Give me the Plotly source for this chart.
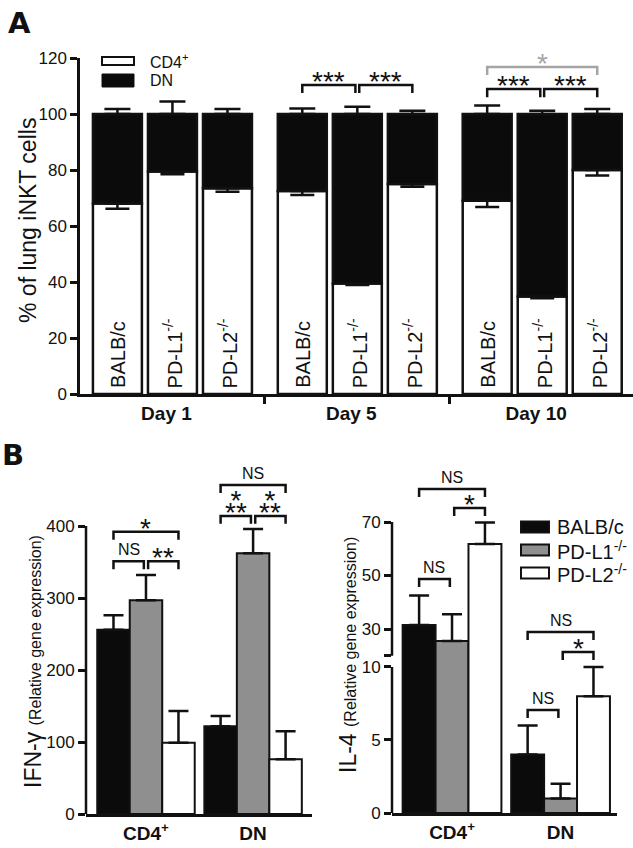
import plotly.graph_objects as go

W, H = 633, 848
FONT = "Liberation Sans, Arial, Helvetica, sans-serif"
INK = "#111111"
SIG_GREY = "#a5a5a5"

# ---------------- Panel A data ----------------
days = ["Day 1", "Day 5", "Day 10"]
strains = ["BALB/c", "PD-L1<sup>-/-</sup>", "PD-L2<sup>-/-</sup>"]
# order: Day 1 (BALB/c, PD-L1, PD-L2), Day 5 (...), Day 10 (...)
cd4_pct = [68.0, 79.5, 73.5, 72.5, 39.5, 75.0, 69.0, 34.8, 80.0]
cd4_err = [1.8, 1.0, 1.3, 1.4, 0.6, 1.0, 2.2, 0.6, 2.0]
dn_pct = [32.0, 20.5, 26.5, 27.5, 60.5, 25.0, 31.0, 65.2, 20.0]
dn_err = [1.8, 4.5, 1.8, 2.0, 2.6, 1.2, 3.0, 1.2, 1.8]
a_ticks = [0, 20, 40, 60, 80, 100, 120]
# (day, strain from, strain to, label lines, bracket height, colour)
sig_a = [(1, 0, 1, ["***"], 110.4, INK), (1, 1, 2, ["***"], 110.4, INK),
         (2, 0, 1, ["***"], 108.9, INK), (2, 1, 2, ["***"], 108.9, INK),
         (2, 0, 2, ["*"], 116.8, SIG_GREY)]

# ---------------- Panel B data ----------------
cells = ["CD4<sup>+</sup>", "DN"]
genotypes = ["BALB/c", "PD-L1<sup>-/-</sup>", "PD-L2<sup>-/-</sup>"]
geno_fill = ["#0b0b0b", "#8f8f8f", "#ffffff"]
ifng_balbc = [256, 122]
ifng_pdl1 = [297, 362]
ifng_pdl2 = [99, 76]
ifng_balbc_err = [20, 14]
ifng_pdl1_err = [35, 34]
ifng_pdl2_err = [44, 39]
il4_balbc = [31.5, 4.0]
il4_pdl1 = [25.5, 1.0]
il4_pdl2 = [61.8, 8.0]
il4_balbc_err = [11, 2.0]
il4_pdl1_err = [10, 1.0]
il4_pdl2_err = [8, 2.0]
ifng_ticks = [0, 100, 200, 300, 400]
il4_low_ticks = [0, 5, 10]
il4_high_ticks = [30, 50, 70]
il4_break = 20
# (cell group, genotype from, genotype to, label lines top->bottom, bracket height)
sig_ifng = [(0, 0, 1, ["NS"], 351), (0, 1, 2, ["**"], 351), (0, 0, 2, ["*"], 392),
            (1, 0, 1, ["*", "**"], 414), (1, 1, 2, ["*", "**"], 414), (1, 0, 2, ["NS"], 457)]
sig_il4_high = [(0, 0, 1, ["NS"], 48.7), (0, 1, 2, ["*"], 75.2), (0, 0, 2, ["NS"], 82.3),
                (1, 1, 2, ["*"], 21.4), (1, 0, 2, ["NS"], 28.9)]
sig_il4_low = [(1, 0, 1, ["NS"], 7.05)]


def px(x):
    return x / W


def py(y):
    return 1 - y / H


fig = go.Figure()
shapes = []
annotations = []

# ================= Panel A =================
GROUP_STEP = 3.36
BAR_W_A = 0.89
xa = [d * GROUP_STEP + s for d in range(len(days)) for s in range(len(strains))]
day_centers = [d * GROUP_STEP + 1 for d in range(len(days))]
day_bounds = [(day_centers[i] + day_centers[i + 1]) / 2 for i in range(len(days) - 1)]

fig.add_trace(go.Bar(
    x=xa, y=cd4_pct, width=BAR_W_A, offset=-BAR_W_A / 2, xaxis="x", yaxis="y",
    marker=dict(color="white", line=dict(color=INK, width=2.5)),
    error_y=dict(type="data", symmetric=False, array=[0] * len(cd4_err), arrayminus=cd4_err,
                 color=INK, thickness=2.5, width=12),
    name="CD4<sup>+</sup>", showlegend=False))
fig.add_trace(go.Bar(
    x=xa, y=dn_pct, base=cd4_pct, width=BAR_W_A, offset=-BAR_W_A / 2, xaxis="x", yaxis="y",
    marker=dict(color="#0b0b0b", line=dict(color=INK, width=2.5)),
    error_y=dict(type="data", symmetric=False, array=dn_err, arrayminus=[0] * len(dn_err),
                 color=INK, thickness=2.5, width=13),
    name="DN", showlegend=False))

for i, xv in enumerate(xa):
    annotations.append(dict(x=xv, y=0, xref="x", yref="y", text=strains[i % 3], textangle=-90,
                            showarrow=False, xanchor="center", yanchor="bottom", yshift=4,
                            font=dict(size=20, color=INK, family=FONT)))


def bracket(xref, yref, x0, x1, ytop, leg, color, lines, star_size, ns_size):
    shapes.append(dict(type="path", xref=xref, yref=yref,
                       path=f"M{x0},{ytop - leg} L{x0},{ytop} L{x1},{ytop} L{x1},{ytop - leg}",
                       line=dict(color=color, width=2.5)))
    star = "*" in lines[0]
    if star:
        if len(lines) == 1:
            txt, size = lines[0], star_size
        else:
            txt = "<br>".join(f"<span style='font-size:{star_size}px'>{t}</span>" for t in lines)
            size = 9.5
        shift = -14
    else:
        txt, size, shift = lines[0], ns_size, 1
    annotations.append(dict(x=(x0 + x1) / 2, y=ytop, xref=xref, yref=yref, text=txt,
                            showarrow=False, xanchor="center", yanchor="bottom", yshift=shift,
                            font=dict(size=size, color=color, family=FONT)))


INSET_A = 0.035
for d, s0, s1, lab, yb, col in sig_a:
    x0 = d * GROUP_STEP + s0 + (INSET_A if s0 > 0 else 0)
    x1 = d * GROUP_STEP + s1 - (INSET_A if s1 < 2 else 0)
    bracket("x", "y", x0, x1, yb, 2.9, col, lab, 28, 16)

# legend A
shapes.append(dict(type="rect", xref="paper", yref="paper", x0=px(102), x1=px(134),
                   y0=py(65), y1=py(57), fillcolor="white", line=dict(color=INK, width=2)))
shapes.append(dict(type="rect", xref="paper", yref="paper", x0=px(102), x1=px(134),
                   y0=py(87), y1=py(74), fillcolor="#0b0b0b", line=dict(color=INK, width=1)))
annotations.append(dict(x=px(148), y=py(61), xref="paper", yref="paper", text="CD4<sup>+</sup>",
                        showarrow=False, xanchor="left", yanchor="middle",
                        font=dict(size=16, color=INK, family=FONT)))
annotations.append(dict(x=px(148), y=py(80.5), xref="paper", yref="paper", text="DN",
                        showarrow=False, xanchor="left", yanchor="middle",
                        font=dict(size=16, color=INK, family=FONT)))

annotations.append(dict(x=px(28), y=py(221), xref="paper", yref="paper",
                        text="% of lung iNKT cells", textangle=-90, showarrow=False,
                        xanchor="center", yanchor="middle",
                        font=dict(size=23, color=INK, family=FONT)))

# ================= Panel B =================
BARGAP = 0.09
BW = (1 - BARGAP) / 3
xb = list(range(len(cells)))


def bar_center(c, k):
    return c + (k - 1) * BW


ifng_vals = [ifng_balbc, ifng_pdl1, ifng_pdl2]
ifng_errs = [ifng_balbc_err, ifng_pdl1_err, ifng_pdl2_err]
il4_vals = [il4_balbc, il4_pdl1, il4_pdl2]
il4_errs = [il4_balbc_err, il4_pdl1_err, il4_pdl2_err]

for k in range(3):
    common = dict(marker=dict(color=geno_fill[k], line=dict(color=INK, width=2)),
                  name=genotypes[k], showlegend=False)
    fig.add_trace(go.Bar(x=xb, y=ifng_vals[k], xaxis="x2", yaxis="y2",
                         error_y=dict(type="data", symmetric=False, array=ifng_errs[k],
                                      arrayminus=[0, 0], color=INK, thickness=2.5, width=10),
                         **common))
    for xa_id, ya_id in (("x3", "y3"), ("x4", "y4")):
        fig.add_trace(go.Bar(x=xb, y=il4_vals[k], xaxis=xa_id, yaxis=ya_id,
                             error_y=dict(type="data", symmetric=False, array=il4_errs[k],
                                          arrayminus=[0, 0], color=INK, thickness=2.5, width=10),
                             **common))

INSET_B = 0.02
for sig, xr, yr, leg in ((sig_ifng, "x2", "y2", 11), (sig_il4_high, "x4", "y4", 3.0),
                         (sig_il4_low, "x3", "y3", 0.55)):
    for c, k0, k1, lines, yb in sig:
        x0 = bar_center(c, k0) + (INSET_B if k0 > 0 else 0)
        x1 = bar_center(c, k1) - (INSET_B if k1 < 2 else 0)
        bracket(xr, yr, x0, x1, yb, leg, INK, lines, 28, 16)

# axis lines drawn as segments (broken axis on IL-4)
shapes.append(dict(type="line", xref="x2 domain", yref="y2", x0=0, x1=0, y0=0, y1=ifng_ticks[-1],
                   line=dict(color=INK, width=2.5)))
shapes.append(dict(type="line", xref="x3 domain", yref="y3", x0=0, x1=0, y0=0,
                   y1=il4_low_ticks[-1], line=dict(color=INK, width=2.5)))
shapes.append(dict(type="line", xref="x4 domain", yref="y4", x0=0, x1=0, y0=il4_break,
                   y1=il4_high_ticks[-1], line=dict(color=INK, width=2.5)))

# legend B
for k in range(3):
    yc = 527 + 23 * k
    shapes.append(dict(type="rect", xref="paper", yref="paper", x0=px(521), x1=px(549),
                       y0=py(yc + 5.5), y1=py(yc - 5.5), fillcolor=geno_fill[k],
                       line=dict(color=INK, width=2)))
    annotations.append(dict(x=px(555), y=py(yc), xref="paper", yref="paper", text=genotypes[k],
                            showarrow=False, xanchor="left", yanchor="middle",
                            font=dict(size=20, color=INK, family=FONT)))

annotations.append(dict(x=px(33), y=py(662), xref="paper", yref="paper",
                        text="IFN-γ <span style='font-size:16px'>(Relative gene expression)</span>",
                        textangle=-90, showarrow=False, xanchor="center", yanchor="middle",
                        font=dict(size=23, color=INK, family=FONT)))
annotations.append(dict(x=px(348), y=py(655), xref="paper", yref="paper",
                        text="IL-4 <span style='font-size:16px'>(Relative gene expression)</span>",
                        textangle=-90, showarrow=False, xanchor="center", yanchor="middle",
                        font=dict(size=23, color=INK, family=FONT)))

# panel letters
annotations.append(dict(x=px(6), y=py(23), xref="paper", yref="paper", text="<b>A</b>",
                        showarrow=False, xanchor="left", yanchor="middle",
                        font=dict(size=29, color=INK, family="DejaVu Sans")))
annotations.append(dict(x=px(0), y=py(455), xref="paper", yref="paper", text="<b>B</b>",
                        showarrow=False, xanchor="left", yanchor="middle",
                        font=dict(size=29, color=INK, family="DejaVu Sans")))

tickfont = dict(size=17, color=INK, family=FONT)
boldfont = dict(size=19, color=INK, family=FONT)
common_x = dict(showgrid=False, zeroline=False, showline=True, linecolor=INK, linewidth=2.5,
                ticks="", fixedrange=True, automargin=False)
common_y = dict(showgrid=False, zeroline=False, ticks="outside", ticklen=7, tickwidth=2.5,
                tickcolor=INK, tickfont=tickfont, fixedrange=True, automargin=False)

fig.update_layout(
    width=W, height=H, margin=dict(l=0, r=0, t=0, b=0, pad=0, autoexpand=False),
    autosize=False,
    paper_bgcolor="white", plot_bgcolor="white",
    barmode="group", bargap=BARGAP, bargroupgap=0,
    font=dict(family=FONT, color=INK),
    showlegend=False,
    xaxis=dict(domain=[px(80), 1.0], range=[-0.68, 9.37], anchor="y",
               tickvals=day_centers, ticktext=[f"<b>{d}</b>" for d in days], tickfont=boldfont,
               ticklabelshift=-6,
               minor=dict(tickvals=day_bounds, ticks="outside", ticklen=7, tickwidth=2.5,
                          tickcolor=INK),
               **common_x),
    yaxis=dict(domain=[py(394), py(58)], range=[0, 120], anchor="x", tickvals=a_ticks,
               showline=True, linecolor=INK, linewidth=2.5, **common_y),
    xaxis2=dict(domain=[px(86), px(312)], range=[-0.56, 1.55], anchor="y2", tickvals=xb,
                ticktext=[f"<b>{c}</b>" for c in cells], tickfont=boldfont, **common_x),
    yaxis2=dict(domain=[py(814), py(468.4)], range=[0, 480], anchor="x2", tickvals=ifng_ticks,
                showline=False, **common_y),
    xaxis3=dict(domain=[px(392), px(617)], range=[-0.553, 1.52], anchor="y3", tickvals=xb,
                ticktext=[f"<b>{c}</b>" for c in cells], tickfont=boldfont, **common_x),
    yaxis3=dict(domain=[py(813), py(661)], range=[0, 10.41], anchor="x3", tickvals=il4_low_ticks,
                showline=False, **common_y),
    xaxis4=dict(domain=[px(392), px(617)], range=[-0.553, 1.52], anchor="y4", matches="x3",
                visible=False, automargin=False),
    yaxis4=dict(domain=[py(661), py(468.5)], range=[18.04, 90], anchor="x4",
                tickvals=[il4_break] + il4_high_ticks,
                ticktext=[""] + [str(t) for t in il4_high_ticks], showline=False, **common_y),
    shapes=shapes, annotations=annotations,
)

fig.write_html("out.html", config={"displayModeBar": False},
               post_script="document.body.style.margin='0px';")
